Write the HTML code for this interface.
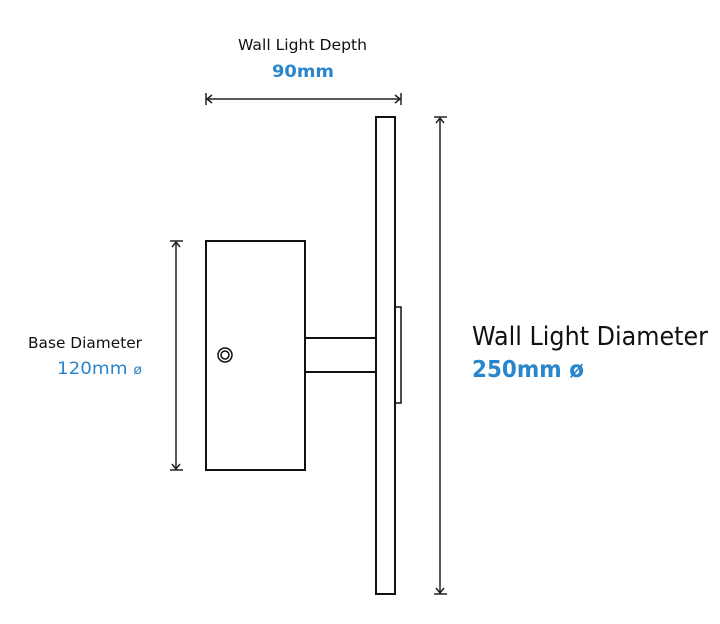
<!DOCTYPE html>
<html><head><meta charset="utf-8"><style>
html,body{margin:0;padding:0;background:#fff;}
svg{display:block;}
text{font-family:"DejaVu Sans","Liberation Sans",sans-serif;}
</style></head><body>
<svg width="720" height="624" viewBox="0 0 720 624" xmlns="http://www.w3.org/2000/svg">
<g fill="none" stroke="#111" stroke-width="2">
<rect x="376" y="117" width="19" height="477"/>
<rect x="206" y="241" width="99" height="229"/>
<line x1="305" y1="338" x2="376" y2="338"/>
<line x1="305" y1="372" x2="376" y2="372"/>
<rect x="395" y="307" width="6" height="96" stroke-width="1.5"/>
<circle cx="225" cy="355" r="7" stroke-width="1.5"/>
<circle cx="225" cy="355" r="4" stroke-width="1.5"/>
</g>
<g stroke="#222" stroke-width="1.5" fill="none">
<line x1="206" y1="99" x2="401" y2="99"/>
<line x1="206" y1="93" x2="206" y2="105"/>
<line x1="401" y1="93" x2="401" y2="105"/>
<polyline points="212,95 207,99 212,103"/>
<polyline points="395,95 400,99 395,103"/>
<line x1="176" y1="241" x2="176" y2="470"/>
<line x1="170" y1="241" x2="183" y2="241"/>
<line x1="170" y1="470" x2="183" y2="470"/>
<polyline points="172,247 176,242 180,247"/>
<polyline points="172,464 176,469 180,464"/>
<line x1="440" y1="117" x2="440" y2="594"/>
<line x1="434" y1="117" x2="447" y2="117"/>
<line x1="434" y1="594" x2="447" y2="594"/>
<polyline points="436,123 440,118 444,123"/>
<polyline points="436,588 440,593 444,588"/>
</g>
<text x="238" y="50" font-size="15" textLength="129" lengthAdjust="spacingAndGlyphs" fill="#111">Wall Light Depth</text>
<text x="272" y="77" font-size="17" font-weight="bold" textLength="62" lengthAdjust="spacingAndGlyphs" fill="#2a86cc">90mm</text>
<text x="28" y="348" font-size="15" textLength="114" lengthAdjust="spacingAndGlyphs" fill="#111">Base Diameter</text>
<text x="57" y="374" font-size="17" textLength="85" lengthAdjust="spacingAndGlyphs" fill="#2a86cc">120mm <tspan font-size="13">ø</tspan></text>
<text x="472" y="345" font-size="26" textLength="236" lengthAdjust="spacingAndGlyphs" fill="#111">Wall Light Diameter</text>
<text x="472" y="377" font-size="23" font-weight="bold" textLength="112" lengthAdjust="spacingAndGlyphs" fill="#2a86cc">250mm ø</text>
</svg>
</body></html>
